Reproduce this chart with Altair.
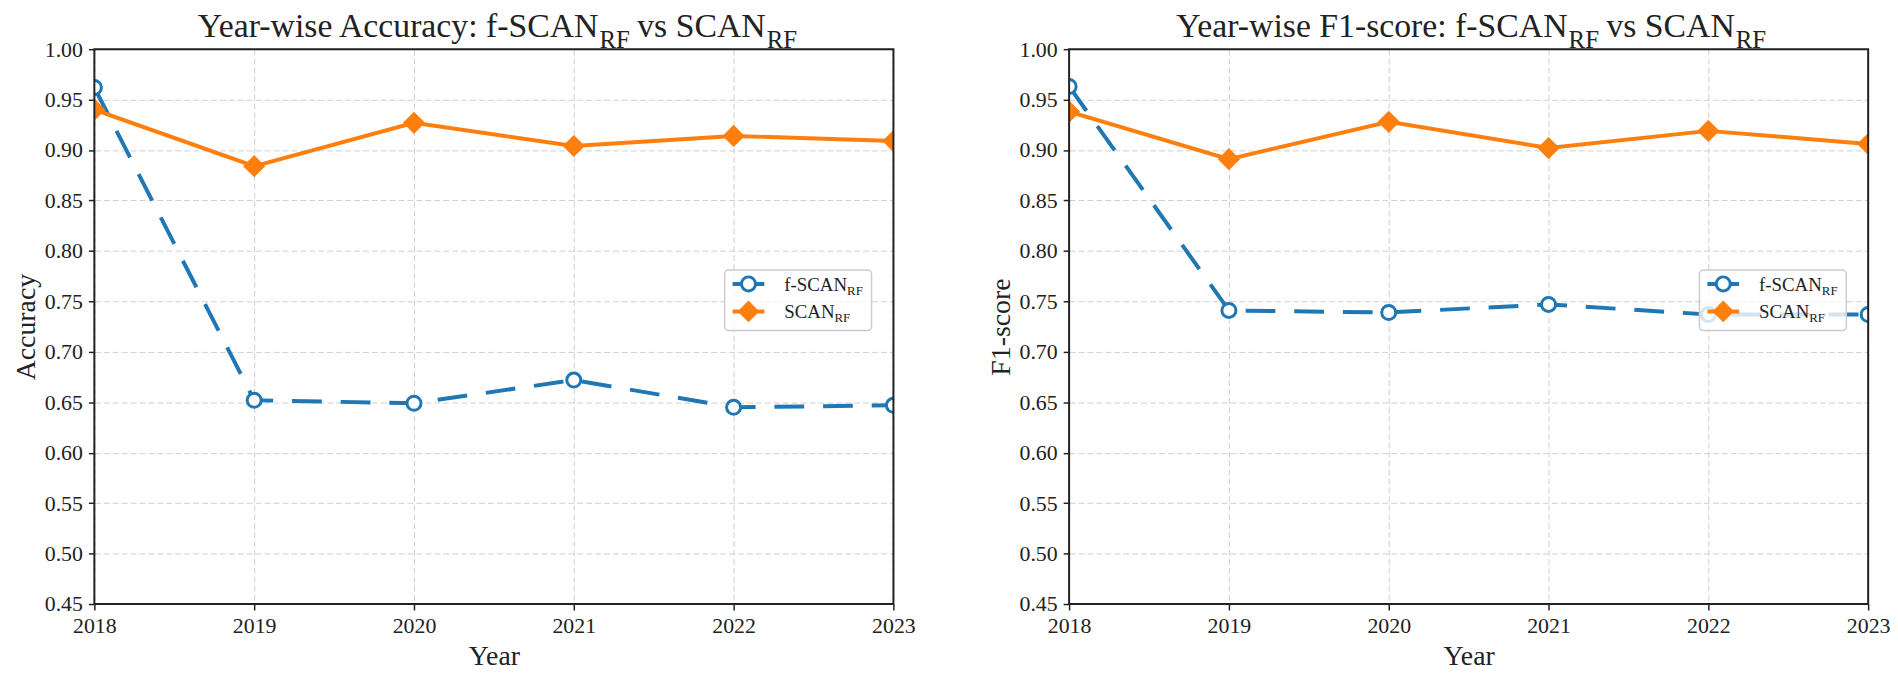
import altair as alt
import pandas as pd

# ---------------- data ----------------
years = [2018, 2019, 2020, 2021, 2022, 2023]
acc_fscan = [0.962, 0.652, 0.649, 0.672, 0.645, 0.647]
acc_scan = [0.940, 0.884, 0.927, 0.904, 0.914, 0.909]
f1_fscan = [0.963, 0.741, 0.739, 0.747, 0.737, 0.737]
f1_scan = [0.938, 0.891, 0.928, 0.902, 0.919, 0.906]
y_ticks = [0.45, 0.50, 0.55, 0.60, 0.65, 0.70, 0.75, 0.80, 0.85, 0.90, 0.95, 1.00]
series_main = ["f-SCAN", "SCAN"]
subscript = "RF"

FONT = "Liberation Serif"
BLUE = "#1f77b4"
ORANGE = "#ff7f0e"
INK = "#222222"

W, H = 805, 559
TITLE_FS, SUB_FS = 34, 25
LEG_FS, LEG_SUB_FS = 19, 13

# Times-like advance widths (em) for measuring composed titles
CW = {"Y": .722, "e": .444, "a": .444, "r": .333, "-": .333, "w": .722, "i": .278,
      "s": .389, " ": .25, "A": .722, "c": .444, "u": .5, "y": .5, ":": .278,
      "f": .333, "S": .556, "C": .667, "N": .722, "v": .5, "R": .667, "F": .556,
      "1": .5, "o": .5}


def tw(s, fs):
    return sum(CW.get(ch, .5) for ch in s) * fs


one = pd.DataFrame({"k": [0]})


def text_layer(txt, x, y, fs, align="left"):
    return alt.Chart(one).mark_text(
        text=txt, align=align, baseline="alphabetic", font=FONT,
        fontSize=fs, color=INK
    ).encode(x=alt.value(x), y=alt.value(y))


def panel(metric_name, fvals, svals):
    df = pd.DataFrame({"year": years * 2,
                       "value": fvals + svals,
                       "series": [series_main[0]] * len(years) + [series_main[1]] * len(years)})
    x = alt.X("year:Q", scale=alt.Scale(domain=[2018, 2023], nice=False, zero=False),
              axis=alt.Axis(values=years, format="d", title="Year", labelFlush=False,
                            labelPadding=6, titlePadding=6))
    y = alt.Y("value:Q", scale=alt.Scale(domain=[0.45, 1.0], nice=False, zero=False),
              axis=alt.Axis(values=y_ticks, format=".2f", title=metric_name,
                            labelPadding=6, titlePadding=4))
    base = alt.Chart(df).encode(x=x, y=y)
    fs = base.transform_filter(alt.datum.series == series_main[0])
    ss = base.transform_filter(alt.datum.series == series_main[1])
    f_line = fs.mark_line(color=BLUE, strokeWidth=4, strokeDash=[30, 19], clip=True)
    f_pts = fs.mark_point(shape="circle", size=200, filled=False, fill="white",
                          fillOpacity=1, color=BLUE, strokeWidth=3, opacity=1, clip=True)
    s_line = ss.mark_line(color=ORANGE, strokeWidth=4, clip=True)
    s_pts = ss.mark_point(shape="diamond", size=500, filled=True, color=ORANGE,
                          opacity=1, clip=True)

    # frame around the plot area (all four spines)
    frame = alt.Chart(one).mark_rect(fillOpacity=0, stroke=INK, strokeWidth=2).encode(
        x=alt.value(0), x2=alt.value(W), y=alt.value(0), y2=alt.value(H))

    # ---- composed title with subscripts ----
    t1 = f"Year-wise {metric_name}: {series_main[0]}"
    t2 = f"vs {series_main[1]}"
    sp = tw(" ", TITLE_FS)
    w_sub = tw(subscript, SUB_FS)
    total = tw(t1, TITLE_FS) + w_sub * 2 + sp + tw(t2, TITLE_FS)
    x0 = W / 2 - total / 2
    base_y = -12
    sub_y = -1
    xb = x0 + tw(t1, TITLE_FS)          # end of first segment / start of subscript
    xc = xb + w_sub + sp
    xd = xc + tw(t2, TITLE_FS)
    titles = [text_layer(t1, xb, base_y, TITLE_FS, align="right"),
              text_layer(subscript, xb + 1, sub_y, SUB_FS),
              text_layer(t2, xc, base_y, TITLE_FS),
              text_layer(subscript, xd + 1, sub_y, SUB_FS)]

    # ---- legend ----
    bx1 = W - 170
    bx2 = W - 22
    by1 = H * 0.398
    by2 = by1 + 61
    leg_box = alt.Chart(one).mark_rect(fill="white", fillOpacity=0.8, stroke="#cccccc",
                                       strokeWidth=1.5, cornerRadius=4).encode(
        x=alt.value(bx1), x2=alt.value(bx2), y=alt.value(by1), y2=alt.value(by2))
    rows = [by1 + 14, by1 + 41.7]
    lx1, lx2, lxc = bx1 + 8, bx1 + 40, bx1 + 24
    tx = bx1 + 60
    leg = [leg_box]
    leg.append(alt.Chart(one).mark_rule(color=BLUE, strokeWidth=4).encode(
        x=alt.value(lx1), x2=alt.value(lx2), y=alt.value(rows[0])))
    leg.append(alt.Chart(one).mark_point(shape="circle", size=200, filled=False, fill="white",
                                         fillOpacity=1, color=BLUE, strokeWidth=3, opacity=1).encode(
        x=alt.value(lxc), y=alt.value(rows[0])))
    leg.append(alt.Chart(one).mark_rule(color=ORANGE, strokeWidth=4).encode(
        x=alt.value(lx1), x2=alt.value(lx2), y=alt.value(rows[1])))
    leg.append(alt.Chart(one).mark_point(shape="diamond", size=480, filled=True,
                                         color=ORANGE, opacity=1).encode(
        x=alt.value(lxc), y=alt.value(rows[1])))
    for r, name in zip(rows, series_main):
        leg.append(text_layer(name, tx, r + 7, LEG_FS))
        leg.append(text_layer(subscript, tx + tw(name, LEG_FS), r + 11, LEG_SUB_FS))

    return alt.layer(f_line, f_pts, s_line, s_pts, frame, *titles, *leg).properties(width=W, height=H)


left = panel("Accuracy", acc_fscan, acc_scan)
right = panel("F1-score", f1_fscan, f1_scan)

chart = alt.hconcat(left, right, spacing=72).properties(
    padding={"left": 4, "top": 0, "right": 0, "bottom": 0}
).configure_axis(
    labelFont=FONT, labelFontSize=22, labelColor=INK,
    titleFont=FONT, titleFontSize=28, titleFontWeight="normal", titleColor=INK,
    tickColor=INK, tickSize=6, tickWidth=1.5, domain=False,
    gridColor="#d0d0d0", gridDash=[6, 3], gridWidth=1
).configure_view(strokeWidth=0)

chart.save("out.html", embed_options={"renderer": "svg", "actions": False})
